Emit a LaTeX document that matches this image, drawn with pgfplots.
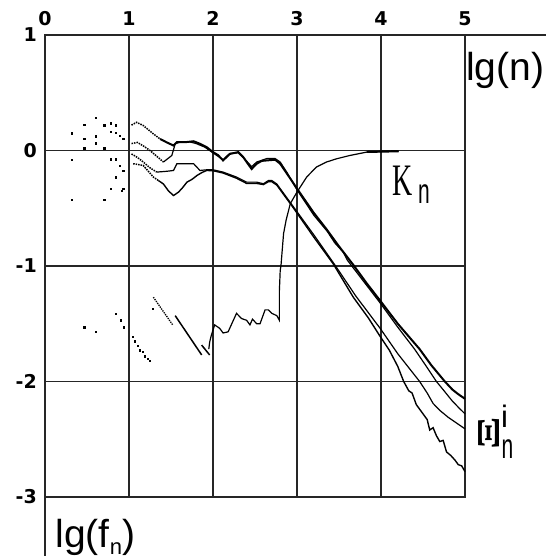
\documentclass[border=0pt]{standalone}
\usepackage{fontspec}
\setmainfont{Liberation Sans}
\newfontfamily\tickfont{DejaVu Sans}
\newfontfamily\seriffont{Liberation Serif}
\usepackage{graphicx}
\usepackage{pgfplots}
\pgfplotsset{compat=1.18}
\newcommand\tl[1]{\mbox{\tickfont\bfseries\fontsize{19pt}{19pt}\selectfont #1}}
\begin{document}
\begin{tikzpicture}[x=1pt,y=1pt]
\useasboundingbox (-45,-62) rectangle (501,497);
\begin{axis}[
  at={(0,0)}, anchor=south west,
  scale only axis, width=420pt, height=462pt,
  xmin=0, xmax=5, ymin=-3, ymax=1,
  xtick={0,1,2,3,4,5}, ytick={-3,-2,-1,0,1},
  xticklabels={\tl{0},\tl{1},\tl{2},\tl{3},\tl{4},\tl{5}},
  yticklabels={\tl{-3},\tl{-2},\tl{-1},\tl{0},\tl{1}},
  xticklabel pos=top,
  major tick length=0pt,
  grid=major,
  grid style={black!85, line width=1.5pt},
  axis line style={black!85, line width=1.5pt},
  xticklabel style={anchor=south, inner sep=0pt, yshift=9pt},
  yticklabel style={anchor=east, inner sep=0pt, xshift=-8pt},
  clip=false,
]
% extended frame lines
\draw[black!85, line width=1.5pt] (axis cs:5,1) -- (axis cs:5.97,1);
\draw[black!85, line width=1.5pt] (axis cs:0,-3) -- (axis cs:0,-3.51);

% scattered dots (upper group)
\addplot[only marks, mark=square*, mark size=0.65pt, black] coordinates {
(0.607,0.283)(0.468,0.222)(0.706,0.219)(0.782,0.236)(0.845,0.219)(0.318,0.150)
(0.782,0.164)(0.845,0.156)(0.607,0.124)(0.893,0.130)(0.468,0.101)(0.932,0.101)
(0.607,0.063)(0.468,0.02)(0.706,0.02)(0.318,-0.078)(0.782,-0.075)(0.845,-0.075)
(0.893,-0.13)(0.932,-0.173)(0.845,-0.231)(0.782,-0.332)(0.913,-0.346)(0.932,-0.332)
(0.318,-0.427)(0.706,-0.427)
};
% scattered dots (lower group)
\addplot[only marks, mark=square*, mark size=0.65pt, black] coordinates {
(0.468,-1.53)(0.607,-1.57)(0.845,-1.41)(0.90,-1.47)(0.94,-1.53)
(1.04,-1.61)(1.07,-1.65)(1.10,-1.69)(1.13,-1.73)(1.16,-1.745)(1.19,-1.78)
(1.22,-1.80)(1.25,-1.82)(1.28,-1.37)
};
% short descending segments
\addplot[black, line width=1.3pt, densely dotted] coordinates {(1.29,-1.27)(1.52,-1.51)};
\addplot[black, line width=1.5pt] coordinates {(1.55,-1.43)(1.865,-1.77)};
\addplot[black, line width=1.5pt] coordinates {(1.865,-1.685)(1.96,-1.77)};

% K_n
\addplot[black, line width=1.2pt] coordinates {
(1.95,-1.72)(1.96,-1.66)(1.98,-1.60)(2.02,-1.51)(2.08,-1.54)(2.12,-1.58)(2.18,-1.57)
(2.28,-1.41)(2.34,-1.455)(2.40,-1.47)(2.44,-1.51)(2.47,-1.46)(2.52,-1.50)(2.56,-1.50)
(2.62,-1.38)(2.66,-1.38)(2.70,-1.41)(2.76,-1.43)(2.79,-1.47)(2.79,-1.22)(2.80,-1.04)
(2.81,-0.99)(2.84,-0.72)(2.87,-0.605)(2.92,-0.46)(3.0,-0.36)(3.115,-0.23)(3.23,-0.144)
(3.35,-0.10)(3.47,-0.072)(3.63,-0.043)(3.83,-0.014)(4.0,-0.008)(4.21,-0.006)
};
\addplot[black, line width=2.2pt] coordinates {(3.83,-0.012)(4.21,-0.006)};

% Xi curves: dotted starts
\addplot[black, line width=1.5pt, densely dotted] coordinates {(1.03,0.22)(1.09,0.244)(1.17,0.216)(1.29,0.144)(1.37,0.10)};
\addplot[black, line width=1.5pt, densely dotted] coordinates {(1.03,0.06)(1.10,0.07)(1.17,0.04)(1.25,0.0)(1.33,-0.05)(1.41,-0.10)};
\addplot[black, line width=1.5pt, densely dotted] coordinates {(1.03,-0.03)(1.10,-0.06)(1.17,-0.10)(1.25,-0.15)(1.33,-0.187)};
\addplot[black, line width=1.5pt, densely dotted] coordinates {(1.05,-0.115)(1.10,-0.12)(1.17,-0.13)(1.23,-0.18)(1.29,-0.23)(1.35,-0.26)};

% curve 1
\addplot[black, line width=2pt] coordinates {
(1.37,0.10)(1.45,0.07)(1.53,0.043)(1.57,0.072)(1.67,0.072)(1.77,0.08)(1.845,0.058)
(1.925,0.029)(2.0,-0.014)(2.06,-0.04)(2.12,-0.086)(2.20,-0.03)(2.30,-0.014)(2.36,-0.057)
(2.42,-0.12)(2.46,-0.16)(2.52,-0.115)(2.58,-0.09)(2.64,-0.086)(2.74,-0.08)(2.80,-0.115)
(2.88,-0.20)(3.0,-0.33)(3.2,-0.54)(3.35,-0.68)(3.5,-0.83)(3.67,-0.99)(3.83,-1.15)
(3.99,-1.30)(4.2,-1.50)(4.46,-1.72)(4.6,-1.86)(4.76,-2.0)(4.85,-2.07)(4.92,-2.11)(5.0,-2.15)
};
% curve 2
\addplot[black, line width=1.2pt] coordinates {
(1.41,-0.10)(1.51,-0.043)(1.55,0.058)(1.62,0.075)(1.72,0.075)(1.80,0.06)(1.9,0.03)
(2.0,-0.02)(2.12,-0.08)(2.20,-0.025)(2.30,-0.02)(2.36,-0.06)(2.46,-0.14)(2.52,-0.10)
(2.64,-0.07)(2.74,-0.07)(2.80,-0.10)(2.88,-0.19)(3.0,-0.34)(3.2,-0.56)(3.36,-0.70)
(3.45,-0.80)(3.55,-0.88)(3.6,-0.95)(3.8,-1.14)(3.99,-1.32)(4.2,-1.53)(4.4,-1.72)
(4.55,-1.88)(4.66,-2.0)(4.75,-2.08)(4.85,-2.17)(4.93,-2.23)(5.0,-2.28)
};
% curve 3
\addplot[black, line width=1.2pt] coordinates {
(1.33,-0.187)(1.45,-0.18)(1.53,-0.173)(1.57,-0.115)(1.77,-0.115)(1.845,-0.173)
(1.925,-0.167)(2.0,-0.167)(2.12,-0.187)(2.28,-0.23)(2.40,-0.274)(2.52,-0.274)
(2.60,-0.288)(2.66,-0.26)(2.70,-0.26)(2.76,-0.29)(2.80,-0.33)(2.96,-0.49)(3.2,-0.73)
(3.45,-0.99)(3.7,-1.26)(3.99,-1.54)(4.2,-1.76)(4.46,-2.0)(4.55,-2.10)(4.62,-2.19)
(4.70,-2.25)(4.80,-2.31)(4.9,-2.36)(5.0,-2.41)
};
% curve 4
\addplot[black, line width=1.4pt] coordinates {
(1.35,-0.26)(1.41,-0.29)(1.47,-0.35)(1.53,-0.39)(1.59,-0.36)(1.64,-0.32)(1.69,-0.274)
(1.75,-0.25)(1.81,-0.216)(1.87,-0.19)(1.925,-0.173)(2.0,-0.175)(2.12,-0.195)(2.28,-0.24)
(2.40,-0.285)(2.52,-0.285)(2.60,-0.295)(2.66,-0.27)(2.70,-0.27)(2.76,-0.30)(2.80,-0.34)
(2.96,-0.50)(3.2,-0.75)(3.43,-0.98)(3.67,-1.27)(3.85,-1.45)(3.99,-1.61)(4.1,-1.73)
(4.2,-1.87)(4.27,-2.0)(4.33,-2.08)(4.37,-2.10)(4.42,-2.20)(4.50,-2.28)(4.55,-2.33)
(4.58,-2.42)(4.62,-2.40)(4.66,-2.47)(4.70,-2.52)(4.74,-2.51)(4.78,-2.61)(4.83,-2.64)
(4.88,-2.68)(4.92,-2.72)(4.96,-2.73)(5.0,-2.78)
};

% labels
\node[anchor=base west, inner sep=0pt, font=\fontsize{39pt}{39pt}\selectfont] at (axis cs:5.01,0.606) {lg(n)};
\node[anchor=base west, inner sep=0pt, font=\fontsize{39pt}{39pt}\selectfont] at (axis cs:0.124,-3.437) {lg(f\raisebox{-7pt}{\fontsize{22pt}{22pt}\selectfont n})};
\node[anchor=base west, inner sep=0pt] at (axis cs:4.14,-0.39) {\seriffont\fontsize{45pt}{45pt}\selectfont\scalebox{0.62}[1]{K}};
\node[anchor=base west, inner sep=0pt] at (axis cs:4.44,-0.46) {\fontsize{35pt}{35pt}\selectfont\scalebox{0.6}[1]{n}};
\node[inner sep=0pt] at (axis cs:5.28,-2.45) {\rotatebox{90}{\seriffont\bfseries\fontsize{32pt}{32pt}\selectfont\scalebox{1.5}[1]{Ξ}}};
\node[anchor=base, inner sep=0pt] at (axis cs:5.47,-2.398) {\fontsize{31pt}{31pt}\selectfont i};
\node[anchor=base, inner sep=0pt] at (axis cs:5.506,-2.667) {\fontsize{35pt}{35pt}\selectfont\scalebox{0.6}[1]{n}};
\end{axis}
\end{tikzpicture}
\end{document}
